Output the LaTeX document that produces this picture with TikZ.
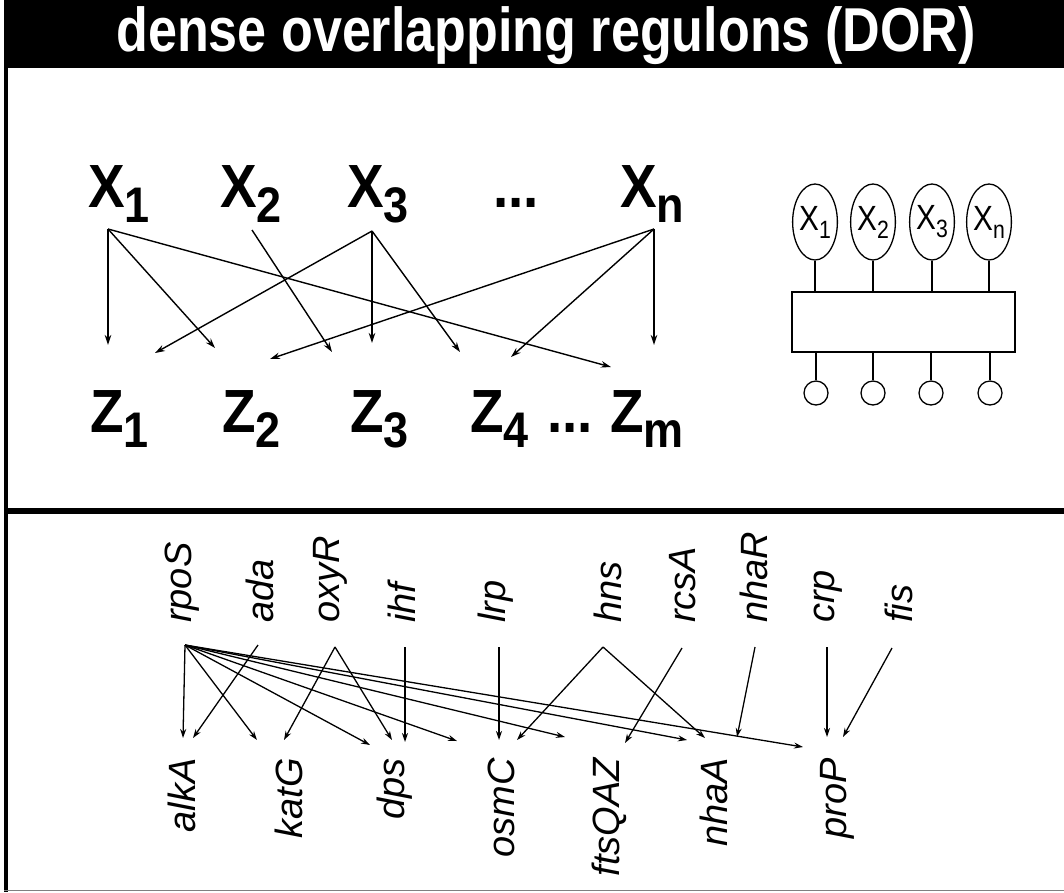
\documentclass[tikz,border=0pt]{standalone}
\usepackage{fontspec}
\setmainfont{Liberation Sans}
\newfontfamily\condf[FakeStretch=0.9]{Liberation Sans}
\newfontfamily\titlef[FakeStretch=0.84]{Liberation Sans}
\newfontfamily\ovalf[FakeStretch=0.85]{Liberation Sans}
\usetikzlibrary{arrows.meta,shapes.geometric}
\newcommand\BigSub[2]{#1\raisebox{-15pt}{\fontsize{50}{50}\selectfont #2}}
\newcommand\SmallSub[2]{#1\raisebox{-8pt}{\fontsize{25}{25}\selectfont #2}}
\begin{document}
\begin{tikzpicture}[x=1pt,y=-1pt,
  arr/.style={line width=1.4pt,-{Stealth[length=10pt,width=6.5pt]}},
  garr/.style={line width=1.3pt,-{Stealth[length=9pt,width=6pt]}},
  big/.style={inner sep=0pt,anchor=base west,font=\condf\bfseries\fontsize{61}{61}\selectfont},
  topgene/.style={inner sep=0pt,rotate=90,anchor=west,font=\itshape\fontsize{38}{38}\selectfont},
  botgene/.style={inner sep=0pt,rotate=90,anchor=east,font=\itshape\fontsize{38}{38}\selectfont},
  oval/.style={draw,ellipse,line width=1.3pt,minimum width=42pt,minimum height=76pt,inner sep=0pt,font=\ovalf\fontsize{35}{35}\selectfont},
  ball/.style={draw,circle,line width=1.3pt,minimum size=24pt,inner sep=0pt},
  stem/.style={line width=1.5pt}]
\useasboundingbox (0,0) rectangle (1064,892);
% frame
\fill[black] (4,0) rectangle (1064,68);
\fill[black] (4,0) rectangle (7.5,892);
\fill[black] (4,508) rectangle (1064,514);
\draw[gray,line width=1.5pt] (4,890.5) -- (1064,890.5);
\node[inner sep=0pt,anchor=base,text=white,font=\titlef\bfseries\fontsize{62}{62}\selectfont] (title) at (546,51) {dense overlapping regulons (DOR)};
% top panel labels
\node[big] (X1) at (88,207) {\BigSub{X}{1}};
\node[big] (X2) at (220,207) {\BigSub{X}{2}};
\node[big] (X3) at (347,207) {\BigSub{X}{3}};
\node[big] (Xdots) at (493,207) {...};
\node[big] (Xn) at (620,207) {\BigSub{X}{n}};
\node[big] (Z1) at (90,432) {\BigSub{Z}{1}};
\node[big] (Z2) at (222,432) {\BigSub{Z}{2}};
\node[big] (Z3) at (350,432) {\BigSub{Z}{3}};
\node[big] (Z4) at (470,432) {\BigSub{Z}{4}};
\node[big] (Zdots) at (547,432) {...};
\node[big] (Zm) at (610,432) {\BigSub{Z}{m}};
% arrow ends
\coordinate (x1o) at (108,229);
\coordinate (x2o) at (252,230);
\coordinate (x3o) at (372,231);
\coordinate (xno) at (654,229);
\coordinate (t11) at (108,345);
\coordinate (t12) at (215,348);
\coordinate (t1m) at (611,367);
\coordinate (t23) at (332,352);
\coordinate (t31) at (155,353);
\coordinate (t33) at (372,343);
\coordinate (t34) at (460,352);
\coordinate (tn2) at (270,359);
\coordinate (tn4) at (511,357);
\coordinate (tnm) at (654,345);
\draw[arr] (x1o) -- (t11);
\draw[arr] (x1o) -- (t12);
\draw[arr] (x1o) -- (t1m);
\draw[arr] (x2o) -- (t23);
\draw[arr] (x3o) -- (t31);
\draw[arr] (x3o) -- (t33);
\draw[arr] (x3o) -- (t34);
\draw[arr] (xno) -- (tn2);
\draw[arr] (xno) -- (tn4);
\draw[arr] (xno) -- (tnm);
% right schematic
\node[oval] (e1) at (815,222) {\SmallSub{X}{1}};
\node[oval] (e2) at (873,222) {\SmallSub{X}{2}};
\node[oval] (e3) at (932,222) {\SmallSub{X}{3}};
\node[oval] (e4) at (989,222) {\SmallSub{X}{n}};
\node[draw,line width=1.6pt,minimum width=223pt,minimum height=60pt,inner sep=0pt] (box) at (903.5,322) {};
\node[ball] (c1) at (816,393) {};
\node[ball] (c2) at (873,393) {};
\node[ball] (c3) at (931,393) {};
\node[ball] (c4) at (990,393) {};
\foreach \e in {e1,e2,e3,e4} \draw[stem] (\e.south) -- (\e.south |- box.north);
\foreach \c in {c1,c2,c3,c4} \draw[stem] (\c.north) -- (\c.north |- box.south);
% bottom panel labels
\node[topgene] (rpoS) at (182.5,623) {rpoS};
\node[topgene] (ada) at (260,623) {ada};
\node[topgene] (oxyR) at (330,623) {oxyR};
\node[topgene] (ihf) at (402,623) {ihf};
\node[topgene] (lrp) at (496,623) {lrp};
\node[topgene] (hns) at (607.5,623) {hns};
\node[topgene] (rcsA) at (682.5,623) {rcsA};
\node[topgene] (nhaR) at (753.5,623) {nhaR};
\node[topgene] (crp) at (828,623) {crp};
\node[topgene] (fis) at (898.5,623) {fis};
\node[botgene] (alkA) at (182,758) {alkA};
\node[botgene] (katG) at (289,758) {katG};
\node[botgene] (dps) at (395,758) {dps};
\node[botgene] (osmC) at (501,758) {osmC};
\node[botgene] (ftsQAZ) at (609.5,758) {ftsQAZ};
\node[botgene] (nhaA) at (713.5,758) {nhaA};
\node[botgene] (proP) at (837.5,758) {proP};
% bottom arrow ends
\coordinate (rpoSo) at (185,645);
\coordinate (adao) at (258,645);
\coordinate (oxyRo) at (335,647);
\coordinate (ihfo) at (405,647);
\coordinate (lrpo) at (499,647);
\coordinate (hnso) at (603,647);
\coordinate (rcsAo) at (682,648);
\coordinate (nhaRo) at (755,647);
\coordinate (crpo) at (827,647);
\coordinate (fiso) at (892,648);
\draw[garr] (rpoSo) -- (183,738) coordinate (r1);
\draw[garr] (rpoSo) -- (257,740) coordinate (r2);
\draw[garr] (rpoSo) -- (370,745) coordinate (r3);
\draw[garr] (rpoSo) -- (457,741) coordinate (r4);
\draw[garr] (rpoSo) -- (565,737) coordinate (r5);
\draw[garr] (rpoSo) -- (687,740) coordinate (r6);
\draw[garr] (rpoSo) -- (803,747) coordinate (r7);
\draw[garr] (adao) -- (193,738) coordinate (a1);
\draw[garr] (oxyRo) -- (284,740) coordinate (o1);
\draw[garr] (oxyRo) -- (392,740) coordinate (o2);
\draw[garr] (ihfo) -- (405,742) coordinate (i1);
\draw[garr] (lrpo) -- (499,740) coordinate (l1);
\draw[garr] (hnso) -- (517,740) coordinate (h1);
\draw[garr] (hnso) -- (705,738) coordinate (h2);
\draw[garr] (rcsAo) -- (625,743) coordinate (rc1);
\draw[garr] (nhaRo) -- (737,737) coordinate (n1);
\draw[garr] (crpo) -- (827,737) coordinate (cr1);
\draw[garr] (fiso) -- (843,737) coordinate (f1);
\end{tikzpicture}
\end{document}
